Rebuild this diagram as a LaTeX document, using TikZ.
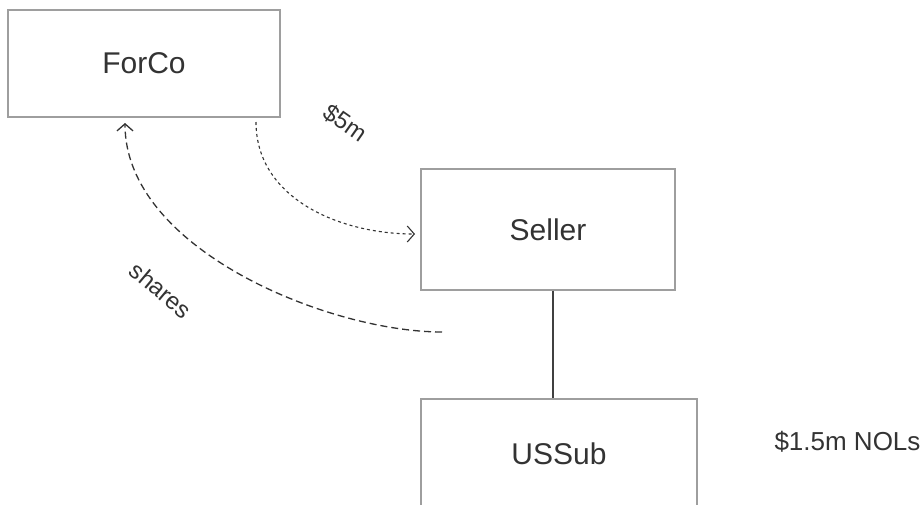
\documentclass[tikz,border=0pt]{standalone}
\usepackage{fontspec}
\setmainfont{Liberation Sans}
\usetikzlibrary{arrows.meta,positioning}

\begin{document}
\begin{tikzpicture}[x=1pt,y=-1pt,
    entity/.style={draw=black!38, line width=1.2pt, inner sep=0pt,
      font=\fontsize{30}{36}\selectfont, text=black!80},
    flow/.style={draw=black!80, line width=1.3pt,
      -{Straight Barb[length=7pt,width=16pt]}},
    tag/.style={font=\fontsize{24}{28}\selectfont, text=black!80}]
%    \draw[help lines, step=50] (0,0) grid (924,504);
    \useasboundingbox (0,0) rectangle (924,504);

    \node[entity, minimum width=272, minimum height=107] (forco)  at (144,63.5) {ForCo};
    \node[entity, minimum width=254, minimum height=121] (seller) at (548,229.5) {Seller};
    \node[entity, minimum width=276, minimum height=110] (ussub)  at (559,454) {USSub};

    \node[font=\fontsize{26}{30}\selectfont, text=black!80, anchor=west] (nols) at (771,442) {\$1.5m NOLs};

    % ownership
    \coordinate (link) at (553,0);
    \draw[black!75, line width=1.2pt] (seller.south -| link) -- (ussub.north -| link);

    % cash for shares
    \coordinate (payfrom)    at (256,122);
    \coordinate (payto)      at (415,234);
    \coordinate (sharesfrom) at (442,332);
    \coordinate (sharesto)   at (125,123);

    \draw[flow, line width=1.1pt, dash pattern=on 3pt off 3pt] (payfrom) .. controls (256,198) and (339,234) .. (payto);
    \node[tag, rotate=-35] (paylbl) at (345,123) {\$5m};

    \draw[flow, dash pattern=on 7pt off 4pt] (sharesfrom) .. controls (330,332) and (125,250) .. (sharesto);
    \node[tag, rotate=-40] (shareslbl) at (161,290) {shares};
\end{tikzpicture}
\end{document}
